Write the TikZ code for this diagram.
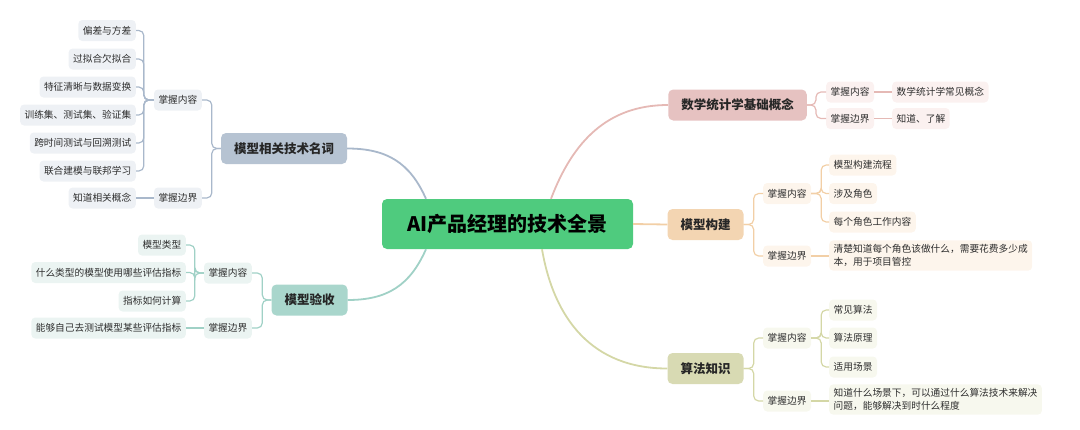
\documentclass[tikz,border=0pt]{standalone}
\usepackage{fontspec}
\setmainfont{Noto Sans CJK SC}
\usepackage{tikz}
\usetikzlibrary{calc, arrows.meta}
\definecolor{rootc}{HTML}{4FCB7E}
\definecolor{pinkc}{HTML}{E6C2C1}
\definecolor{pinkl}{HTML}{E5B9B5}
\definecolor{pinkf}{HTML}{FBF1F0}
\definecolor{orac}{HTML}{F3D5B2}
\definecolor{oral}{HTML}{F2CFA6}
\definecolor{oraf}{HTML}{FDF5EC}
\definecolor{olic}{HTML}{D8DAB3}
\definecolor{olil}{HTML}{D4D7A6}
\definecolor{olif}{HTML}{F7F8EE}
\definecolor{bluc}{HTML}{B6C3D2}
\definecolor{blul}{HTML}{A9B8CB}
\definecolor{bluf}{HTML}{EEF1F5}
\definecolor{teac}{HTML}{A9D6CC}
\definecolor{teal2}{HTML}{A0D1C6}
\definecolor{teaf}{HTML}{EBF4F2}
\definecolor{txt}{HTML}{2E2E2E}

\begin{document}
\begin{tikzpicture}[x=1pt, y=-1pt,
  root/.style={fill=rootc, rounded corners=5pt, minimum width=251pt, minimum height=50pt,
    font=\fontsize{20}{24}\selectfont\bfseries, text=black},
  branch/.style={fill=#1, rounded corners=5pt, minimum height=31pt, inner xsep=13pt,
    font=\fontsize{12.5}{15}\selectfont\bfseries, text=black!85},
  leaf/.style={fill=#1, rounded corners=4pt, minimum height=21pt, inner xsep=4.5pt, inner ysep=3pt,
    font=\fontsize{9.7}{13}\selectfont, text=txt},
  trunk/.style={draw=#1, line width=1.8pt},
  twig/.style={draw=#1, line width=1.2pt, rounded corners=5pt}]
\useasboundingbox (0,0) rectangle (1080,429);

\node[root] (ai) at (507.5,224) {AI产品经理的技术全景};

\node[branch=pinkc] (sx) at (737.5,105) {数学统计学基础概念};
\node[leaf=pinkf, anchor=west] (sxa) at (826,92) {掌握内容};
\node[leaf=pinkf, anchor=west] (sxb) at (826,118.5) {掌握边界};
\node[leaf=pinkf, anchor=west] (sxa1) at (892,92) {数学统计学常见概念};
\node[leaf=pinkf, anchor=west] (sxb1) at (892,118.5) {知道、了解};

\node[branch=orac, minimum width=75pt] (gj) at (705.5,224.5) {模型构建};
\node[leaf=oraf, anchor=west] (gja) at (763,193.5) {掌握内容};
\node[leaf=oraf, anchor=west] (gjb) at (763,256) {掌握边界};
\node[leaf=oraf, anchor=west] (gja1) at (829,165) {模型构建流程};
\node[leaf=oraf, anchor=west] (gja2) at (829,193.5) {涉及角色};
\node[leaf=oraf, anchor=west] (gja3) at (829,222) {每个角色工作内容};
\node[leaf=oraf, anchor=west, align=left, inner ysep=4pt] (gjb1) at (829,255.5)
  {清楚知道每个角色该做什么，需要花费多少成\\本，用于项目管控};

\node[branch=olic, minimum width=75pt] (sf) at (705.5,368.5) {算法知识};
\node[leaf=olif, anchor=west] (sfa) at (763,338) {掌握内容};
\node[leaf=olif, anchor=west] (sfb) at (763,401) {掌握边界};
\node[leaf=olif, anchor=west] (sfa1) at (829,310) {常见算法};
\node[leaf=olif, anchor=west] (sfa2) at (829,338) {算法原理};
\node[leaf=olif, anchor=west] (sfa3) at (829,367) {适用场景};
\node[leaf=olif, anchor=west, align=left, inner ysep=4pt] (sfb1) at (829,399.5)
  {知道什么场景下，可以通过什么算法技术来解决\\问题，能够解决到时什么程度};

\node[branch=bluc] (mc) at (284,148.5) {模型相关技术名词};
\node[leaf=bluf, anchor=east] (mca) at (202,100) {掌握内容};
\node[leaf=bluf, anchor=east] (mcb) at (202,198) {掌握边界};
\node[leaf=bluf, anchor=east] (mca1) at (136,30.5) {偏差与方差};
\node[leaf=bluf, anchor=east] (mca2) at (136,59) {过拟合欠拟合};
\node[leaf=bluf, anchor=east] (mca3) at (136,87) {特征清晰与数据变换};
\node[leaf=bluf, anchor=east] (mca4) at (136,115) {训练集、测试集、验证集};
\node[leaf=bluf, anchor=east] (mca5) at (136,143) {跨时间测试与回溯测试};
\node[leaf=bluf, anchor=east] (mca6) at (136,171) {联合建模与联邦学习};
\node[leaf=bluf, anchor=east] (mcb1) at (136,198) {知道相关概念};

\node[branch=teac, minimum width=75pt] (ys) at (309.5,300) {模型验收};
\node[leaf=teaf, anchor=east] (ysa) at (252,273) {掌握内容};
\node[leaf=teaf, anchor=east] (ysb) at (252,328) {掌握边界};
\node[leaf=teaf, anchor=east] (ysa1) at (186,245) {模型类型};
\node[leaf=teaf, anchor=east] (ysa2) at (186,272.5) {什么类型的模型使用哪些评估指标};
\node[leaf=teaf, anchor=east] (ysa3) at (186,301) {指标如何计算};
\node[leaf=teaf, anchor=east] (ysb1) at (186,328) {能够自己去测试模型某些评估指标};

\draw[trunk=pinkl] ([xshift=43.5pt]ai.north) .. controls +(22,-58) and +(-60,0) .. (sx.west);
\draw[trunk=oral] (ai.east) -- (gj.west);
\draw[trunk=olil] ([xshift=34.5pt]ai.south) .. controls +(12,70) and +(-75,0) .. (sf.west);
\draw[trunk=blul] ([xshift=-81.5pt]ai.north) .. controls +(-16,-36) and +(40,0) .. (mc.east);
\draw[trunk=teal2] ([xshift=-81.5pt]ai.south) .. controls +(-16,36) and +(40,0) .. (ys.east);

\foreach \c in {sxa,sxb} \draw[twig=pinkl] (sx.east) -- ++(9,0) |- (\c.west);
\draw[twig=pinkl] (sxa.east) -- (sxa1.west);
\draw[twig=pinkl] (sxb.east) -- (sxb1.west);

\foreach \c in {gja,gjb} \draw[twig=oral] (gj.east) -- ++(10,0) |- (\c.west);
\foreach \c in {gja1,gja2,gja3} \draw[twig=oral] (gja.east) -- ++(10,0) |- (\c.west);
\draw[twig=oral] (gjb.east) -- (gjb.east -| gjb1.west);

\foreach \c in {sfa,sfb} \draw[twig=olil] (sf.east) -- ++(10,0) |- (\c.west);
\foreach \c in {sfa1,sfa2,sfa3} \draw[twig=olil] (sfa.east) -- ++(10,0) |- (\c.west);
\draw[twig=olil] (sfb.east) -- (sfb.east -| sfb1.west);

\foreach \c in {mca,mcb} \draw[twig=blul] (mc.west) -- ++(-9,0) |- (\c.east);
\foreach \c in {mca1,mca2,mca3,mca4,mca5,mca6} \draw[twig=blul] (mca.west) -- ++(-10,0) |- (\c.east);
\draw[twig=blul] (mcb.west) -- (mcb1.east);

\foreach \c in {ysa,ysb} \draw[twig=teal2] (ys.west) -- ++(-9,0) |- (\c.east);
\foreach \c in {ysa1,ysa2,ysa3} \draw[twig=teal2] (ysa.west) -- ++(-9,0) |- (\c.east);
\draw[twig=teal2] (ysb.west) -- (ysb1.east);
\end{tikzpicture}
\end{document}
